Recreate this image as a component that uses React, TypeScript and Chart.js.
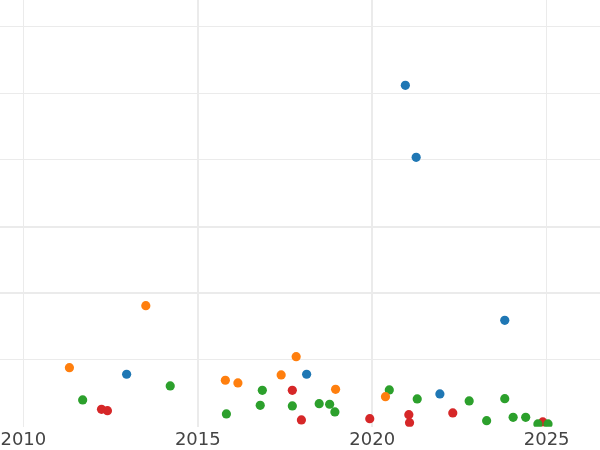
import React, { useEffect, useRef } from "react";
import { Chart, registerables } from "chart.js";

Chart.register(...registerables);

const xTicks = [2010, 2015, 2020, 2025];
const yTicks = [10, 20, 30, 40, 50, 60];

const blueX = [2020.95, 2021.26, 2023.8, 2012.96, 2018.12, 2021.94];
const blueY = [51.2, 40.4, 15.95, 7.86, 7.86, 4.9];

const orangeX = [2013.51, 2011.32, 2017.82, 2015.79, 2016.15, 2017.39, 2018.95, 2020.38];
const orangeY = [18.14, 8.85, 10.5, 6.96, 6.55, 7.75, 5.6, 4.5];

const greenX = [2011.7, 2014.21, 2015.82, 2016.85, 2016.79, 2017.71, 2018.48, 2018.78, 2018.93, 2020.49, 2021.29, 2022.78, 2023.28, 2023.8, 2024.04, 2024.4, 2024.75, 2025.04];
const greenY = [4.0, 6.1, 1.9, 5.45, 3.2, 3.1, 3.45, 3.36, 2.2, 5.5, 4.15, 3.85, 0.9, 4.2, 1.4, 1.4, 0.4, 0.4];

const redX = [2012.24, 2012.41, 2017.71, 2017.97, 2019.93, 2021.05, 2021.07, 2022.31, 2024.89];
const redY = [2.6, 2.4, 5.45, 1.0, 1.2, 1.8, 0.6, 2.05, 0.7];

const toPts = (xs: number[], ys: number[]) => xs.map((x, i) => ({ x, y: ys[i] }));

export default function App() {
  const ref = useRef<HTMLCanvasElement | null>(null);
  useEffect(() => {
    if (!ref.current) return;
    const mk = (label: string, xs: number[], ys: number[], color: string) => ({
      label,
      data: toPts(xs, ys),
      backgroundColor: color,
      borderColor: color,
      borderWidth: 0,
      pointRadius: 4.6,
      pointHoverRadius: 4.6,
    });
    const chart = new Chart(ref.current, {
      type: "scatter",
      data: {
        datasets: [
          mk("blue", blueX, blueY, "#1f77b4"),
          mk("orange", orangeX, orangeY, "#ff7f0e"),
          mk("green", greenX, greenY, "#2ca02c"),
          mk("red", redX, redY, "#d62728"),
        ],
      },
      options: {
        animation: false,
        responsive: false,
        events: [],
        layout: { autoPadding: false, padding: { left: 0, right: 0, top: 0, bottom: -4.3 } },
        plugins: { legend: { display: false }, tooltip: { enabled: false }, title: { display: false } },
        scales: {
          x: {
            type: "linear",
            min: 2009.33,
            max: 2026.53,
            afterBuildTicks: (s: any) => {
              s.ticks = xTicks.map((v) => ({ value: v }));
            },
            border: { display: false },
            grid: {
              color: "#ebebeb",
              lineWidth: (c: any) => (c.tick && (c.tick.value === 2015 || c.tick.value === 2020) ? 2 : 1),
              drawTicks: false,
            },
            ticks: {
              padding: 0,
              color: "#444444",
              maxRotation: 0,
              autoSkip: false,
              font: { family: "DejaVu Sans", size: 18, lineHeight: 1.537 },
              callback: (v: any) => String(v),
            },
          },
          y: {
            type: "linear",
            min: 0,
            max: 64,
            afterBuildTicks: (s: any) => {
              s.ticks = yTicks.map((v) => ({ value: v }));
            },
            border: { display: false },
            grid: {
              color: "#ebebeb",
              lineWidth: (c: any) => (c.tick && (c.tick.value === 20 || c.tick.value === 30) ? 2 : 1),
              drawTicks: false,
            },
            ticks: { display: false },
          },
        },
      },
    } as any);
    return () => chart.destroy();
  }, []);
  return (
    <div style={{ position: "fixed", left: 0, top: 0, width: 600, height: 450, background: "#fff" }}>
      <canvas ref={ref} width={600} height={450} style={{ display: "block", width: 600, height: 450 }} />
    </div>
  );
}
